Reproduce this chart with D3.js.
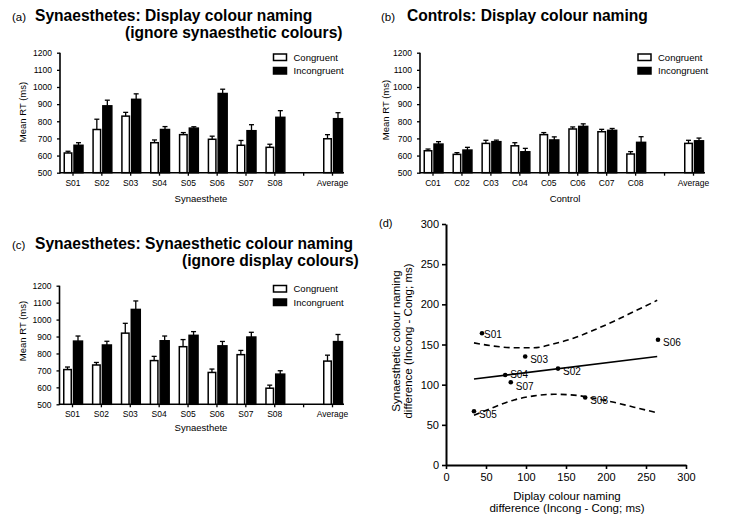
<!DOCTYPE html>
<html><head><meta charset="utf-8">
<script src="https://cdn.jsdelivr.net/npm/d3@7"></script>
<style>
body{margin:0;background:#fff;}
svg{display:block;font-family:"Liberation Sans",Arial,sans-serif;}
</style></head>
<body><svg id="c" width="729" height="526"></svg>
<script>
// ---------- DATA ----------
const synCats = ["S01","S02","S03","S04","S05","S06","S07","S08","Average"];
const ctlCats = ["C01","C02","C03","C04","C05","C06","C07","C08","Average"];
const yTicks = [500,600,700,800,900,1000,1100,1200];
const seriesNames = ["Congruent","Incongruent"];

// (a) Synaesthetes: display colour naming
const aCong      = [615, 752, 830, 675, 722, 695, 660, 648, 698];
const aCongErr   = [10, 60, 22, 16, 12, 18, 28, 18, 24];
const aIncong    = [660, 890, 928, 752, 760, 962, 745, 823, 815];
const aIncongErr = [15, 33, 32, 17, 8, 25, 35, 39, 35];

// (b) Controls: display colour naming
const bCong      = [628, 607, 671, 657, 722, 755, 739, 609, 671];
const bCongErr   = [10, 10, 18, 18, 12, 12, 14, 14, 18];
const bIncong    = [667, 632, 681, 622, 691, 770, 747, 677, 686];
const bIncongErr = [14, 16, 9, 20, 18, 15, 11, 33, 16];

// (c) Synaesthetes: synaesthetic colour naming
const cCong      = [705, 732, 920, 758, 840, 688, 793, 595, 755];
const cCongErr   = [15, 15, 58, 25, 42, 20, 25, 18, 35];
const cIncong    = [873, 850, 1060, 875, 907, 845, 897, 678, 870];
const cIncongErr = [30, 22, 50, 28, 22, 26, 28, 20, 42];

// (d) scatter
const dLabels = ["S01","S02","S03","S04","S05","S06","S07","S08"];
const dX = [45, 140, 99, 74, 35, 265, 81, 174];
const dY = [164, 120, 135, 112, 67, 156, 103, 84];
const dTicks = [0,50,100,150,200,250,300];
const dFitX = [35, 264];
const dFitY = [107, 135];
const dBandX = [35, 60, 85, 110, 135, 160, 185, 210, 235, 264];
const dUpper = [152, 148, 146, 146, 151, 158, 168, 179, 191, 205];
const dLower = [62, 72, 81, 86, 88, 87, 83, 78, 72, 65];

// ---------- DRAW ----------
const svg = d3.select("#c");
const FONT = '"Liberation Sans",Arial,sans-serif';

function title(x, y, label, lines, lineXs, lineYs){
  svg.append("text").attr("x", x).attr("y", lineYs[0]).attr("font-size", 11.5)
     .text(label);
  lines.forEach((t,i)=>{
    svg.append("text").attr("x", lineXs[i]).attr("y", lineYs[i])
      .attr("font-size", 15.6).attr("font-weight","bold").text(t);
  });
}

function barPanel(o){
  const slots = o.cats.slice(0,8).concat(["__gap"], o.cats.slice(8));
  const y = d3.scaleLinear().domain([500,1200]).range([o.yBot, o.yTop]);
  const x = d3.scalePoint().domain(slots).range([o.x0+12.5, o.x1-12]);
  const g = svg.append("g");

  // y axis
  const ya = g.append("g").attr("transform",`translate(${o.x0},0)`)
    .call(d3.axisLeft(y).tickValues(yTicks).tickFormat(d3.format("d"))
      .tickSize(3).tickSizeOuter(0).tickPadding(5));
  ya.select(".domain").remove();
  ya.selectAll("text").attr("font-size",8.5).attr("font-family",FONT);
  ya.selectAll("line").attr("stroke-width",1.3);
  g.append("line").attr("x1",o.x0).attr("x2",o.x0).attr("y1",o.yBot+0.75).attr("y2",o.yTop)
    .attr("stroke","#000").attr("stroke-width",1.6);

  // x axis
  const xa = g.append("g").attr("transform",`translate(0,${o.yBot})`)
    .call(d3.axisBottom(x).tickSize(3).tickSizeOuter(0).tickPadding(4)
      .tickFormat(d => d==="__gap" ? "" : d));
  xa.select(".domain").remove();
  xa.selectAll("text").attr("font-size",8.5).attr("font-family",FONT);
  xa.selectAll("line").attr("stroke-width",1.3);
  g.append("line").attr("x1",o.x0).attr("x2",o.x1).attr("y1",o.yBot).attr("y2",o.yBot)
    .attr("stroke","#000").attr("stroke-width",1.6);

  const series = [
    {vals:o.cong, errs:o.congErr, fill:"#fff", off:-8.25, w:7.5},
    {vals:o.incong, errs:o.incongErr, fill:"#000", off:1.5, w:9}
  ];
  series.forEach(s=>{
    o.cats.forEach((c,i)=>{
      const cx = x(c);
      const bx = cx + s.off;
      const top = y(s.vals[i]);
      const etop = y(s.vals[i] + s.errs[i]);
      const mid = bx + s.w/2;
      g.append("line").attr("x1",mid).attr("x2",mid).attr("y1",top).attr("y2",etop)
        .attr("stroke","#000").attr("stroke-width",1.3);
      g.append("line").attr("x1",mid-2.5).attr("x2",mid+2.5).attr("y1",etop).attr("y2",etop)
        .attr("stroke","#000").attr("stroke-width",1.3);
      g.append("rect").attr("x",bx).attr("y",top).attr("width",s.w)
        .attr("height",o.yBot - top)
        .attr("fill",s.fill).attr("stroke","#000").attr("stroke-width",1.5);
    });
  });

  // axis titles
  g.append("text").attr("x",o.xTitleX).attr("y",o.xTitleY).attr("text-anchor","middle")
    .attr("font-size",9.5).text(o.xTitle);
  g.append("text").attr("transform",`translate(${o.yTitleX},${o.yTitleY}) rotate(-90)`)
    .attr("text-anchor","middle").attr("font-size",9.5).text("Mean RT (ms)");

  // legend
  seriesNames.forEach((n,i)=>{
    const ly = o.legY + i*13.5;
    g.append("rect").attr("x",o.legX).attr("y",ly).attr("width",13).attr("height",6.5)
      .attr("fill", i===0?"#fff":"#000").attr("stroke","#000").attr("stroke-width",1.5);
    g.append("text").attr("x",o.legX+20).attr("y",ly+6.8).attr("font-size",9.5).text(n);
  });
}

// titles
title(12, 0, "(a)", ["Synaesthetes: Display colour naming","(ignore synaesthetic colours)"], [35,125], [21,38]);
title(381, 0, "(b)", ["Controls: Display colour naming"], [407], [21]);
title(12, 0, "(c)", ["Synaesthetes: Synaesthetic colour naming","(ignore display colours)"], [35,182], [249,266]);
svg.append("text").attr("x",379).attr("y",227).attr("font-size",11).text("(d)");

barPanel({cats:synCats, cong:aCong, congErr:aCongErr, incong:aIncong, incongErr:aIncongErr,
  x0:60, x1:344, yTop:52.7, yBot:172.7, xTitle:"Synaesthete", xTitleX:201, xTitleY:202,
  yTitleX:25.5, yTitleY:112, legX:273.5, legY:54});
barPanel({cats:ctlCats, cong:bCong, congErr:bCongErr, incong:bIncong, incongErr:bIncongErr,
  x0:420, x1:705, yTop:52.7, yBot:172.7, xTitle:"Control", xTitleX:565, xTitleY:202,
  yTitleX:388.5, yTitleY:110, legX:638, legY:54});
barPanel({cats:synCats, cong:cCong, congErr:cCongErr, incong:cIncong, incongErr:cIncongErr,
  x0:59.5, x1:344, yTop:285.7, yBot:404.3, xTitle:"Synaesthete", xTitleX:201, xTitleY:431,
  yTitleX:25.5, yTitleY:331, legX:273.5, legY:285.5});

// ---------- (d) scatter ----------
(function(){
  const x = d3.scaleLinear().domain([0,300]).range([446,686]);
  const y = d3.scaleLinear().domain([0,300]).range([465,224]);
  const g = svg.append("g");
  const xa = g.append("g").attr("transform","translate(0,465)")
    .call(d3.axisBottom(x).tickValues(dTicks).tickSize(4).tickSizeOuter(0).tickPadding(4));
  const ya = g.append("g").attr("transform","translate(446,0)")
    .call(d3.axisLeft(y).tickValues(dTicks).tickSize(4).tickSizeOuter(0).tickPadding(3));
  [xa,ya].forEach(a=>{
    a.select(".domain").attr("stroke-width",2);
    a.selectAll("line").attr("stroke-width",1.6);
    a.selectAll("text").attr("font-size",11).attr("font-family",FONT);
  });

  const line = d3.line().x(d=>x(d[0])).y(d=>y(d[1])).curve(d3.curveMonotoneX);
  g.append("path").attr("d", line(dFitX.map((v,i)=>[v,dFitY[i]])))
    .attr("fill","none").attr("stroke","#000").attr("stroke-width",1.6);
  [dUpper,dLower].forEach(arr=>{
    g.append("path").attr("d", line(dBandX.map((v,i)=>[v,arr[i]])))
      .attr("fill","none").attr("stroke","#000").attr("stroke-width",1.6)
      .attr("stroke-dasharray","6,4");
  });

  const lblOff = {S01:[2,1], S04:[5,-1], S07:[5,4]};
  dLabels.forEach((l,i)=>{
    g.append("circle").attr("cx",x(dX[i])).attr("cy",y(dY[i])).attr("r",2.3).attr("fill","#000");
    const off = lblOff[l] || [5,3];
    g.append("text").attr("x",x(dX[i])+off[0]).attr("y",y(dY[i])+off[1]+3.6)
      .attr("font-size",10).text(l);
  });

  g.append("text").attr("x",567).attr("y",500).attr("text-anchor","middle")
    .attr("font-size",11.5).text("Diplay colour naming");
  g.append("text").attr("x",567).attr("y",511.5).attr("text-anchor","middle")
    .attr("font-size",11.5).text("difference (Incong - Cong; ms)");
  g.append("text").attr("transform","translate(399.5,341) rotate(-90)").attr("text-anchor","middle")
    .attr("font-size",11.5).text("Synaesthetic colour naming");
  g.append("text").attr("transform","translate(411.5,341) rotate(-90)").attr("text-anchor","middle")
    .attr("font-size",11.5).text("difference (Incong - Cong; ms)");
})();
</script></body></html>
